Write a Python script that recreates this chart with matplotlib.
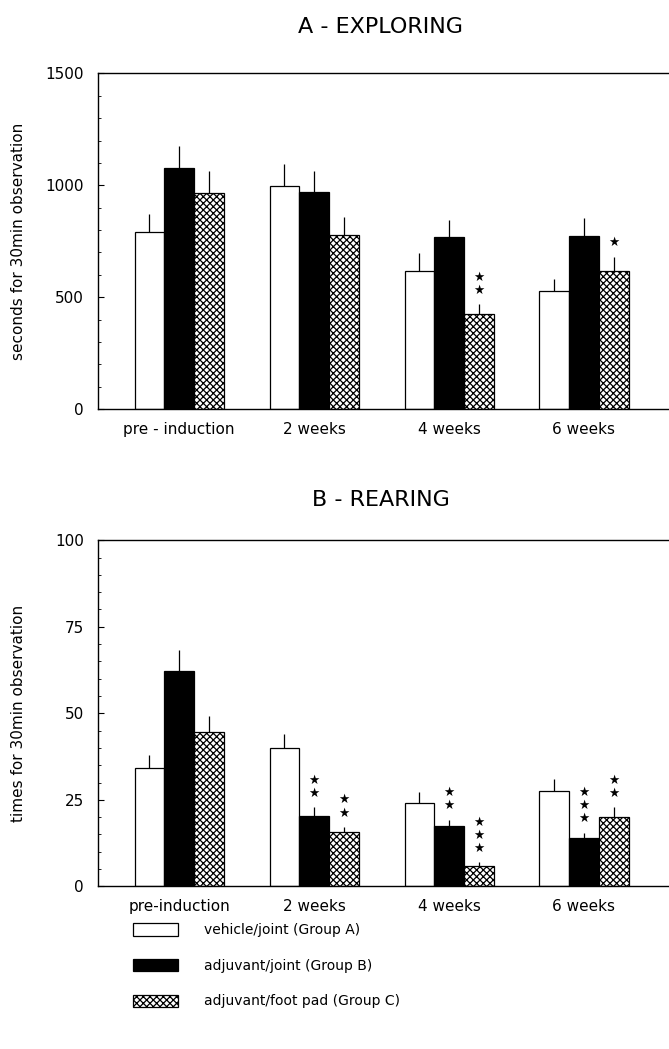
import numpy as np
import matplotlib
matplotlib.use('Agg')
import matplotlib.pyplot as plt
from matplotlib.patches import Patch
from matplotlib.ticker import MultipleLocator

plt.rcParams['font.family'] = ['DejaVu Sans']
plt.rcParams['hatch.linewidth'] = 0.9

# Data
periods_a = ['pre - induction', '2 weeks', '4 weeks', '6 weeks']
periods_b = ['pre-induction', '2 weeks', '4 weeks', '6 weeks']
groups = ['vehicle/joint (Group A)', 'adjuvant/joint (Group B)', 'adjuvant/foot pad (Group C)']

# A - exploring (seconds), bar tops and error-bar tops
explore_mean = [[790, 997, 618, 526],
                [1078, 971, 769, 772],
                [967, 778, 423, 615]]
explore_err_top = [[871, 1095, 697, 581],
                   [1175, 1065, 845, 855],
                   [1063, 859, 468, 681]]
explore_stars = [[0, 0, 0, 0],
                 [0, 0, 0, 0],
                 [0, 0, 2, 1]]

# B - rearing (times)
rear_mean = [[34.3, 39.9, 24.2, 27.7],
             [62.2, 20.3, 17.4, 13.9],
             [44.5, 15.6, 6.0, 20.1]]
rear_err_top = [[38.0, 43.9, 27.2, 30.9],
                [68.3, 22.9, 19.3, 15.5],
                [49.1, 17.2, 7.0, 22.8]]
rear_stars = [[0, 0, 0, 0],
              [0, 2, 2, 3],
              [0, 2, 3, 2]]

faces = ['white', 'black', 'white']
hatches = [None, None, 'xxxxx']
width = 0.22


def draw_panel(ax, periods, means, err_tops, stars, ymax, major, minor, ylabel, title, pad):
    x = np.arange(len(periods))
    for g in range(3):
        xs = x + (g - 1) * width
        ax.bar(xs, means[g], width, color=faces[g], edgecolor='black',
               linewidth=0.9, hatch=hatches[g], zorder=2)
        ax.vlines(xs, means[g], err_tops[g], color='black', linewidth=0.9, zorder=1)
        # significance stars stacked above the error bar
        for xi, top, n in zip(xs, err_tops[g], stars[g]):
            for k in range(n):
                ax.annotate('★', (xi, top), xytext=(0, 10 + 9.4 * k),
                            textcoords='offset points', ha='center', va='center',
                            fontsize=9)
    ax.set_ylim(0, ymax)
    ax.set_xlim(-0.604, 3.63)
    ax.yaxis.set_major_locator(MultipleLocator(major))
    ax.yaxis.set_minor_locator(MultipleLocator(minor))
    ax.tick_params(axis='y', direction='in', length=4, width=0.8, labelsize=11, pad=10)
    ax.tick_params(axis='y', which='minor', direction='in', length=2, width=0.6)
    ax.set_xticks(x)
    ax.set_xticklabels(periods, fontsize=11)
    ax.tick_params(axis='x', length=0, pad=9)
    ax.spines['right'].set_visible(False)
    for s in ['left', 'top', 'bottom']:
        ax.spines[s].set_linewidth(1.0)
    ax.set_ylabel(ylabel, fontsize=11)
    ax.yaxis.set_label_coords(-0.125, 0.5)
    ax.set_title(title, fontsize=16, pad=pad, x=0.495)


fig = plt.figure(figsize=(6.69, 10.49), dpi=100)
ax1 = fig.add_axes([0.146, 0.610, 0.854, 0.320])
ax2 = fig.add_axes([0.146, 0.155, 0.854, 0.330])

draw_panel(ax1, periods_a, explore_mean, explore_err_top, explore_stars, 1500, 500, 100,
           'seconds for 30min observation', 'A - EXPLORING', 29)
draw_panel(ax2, periods_b, rear_mean, rear_err_top, rear_stars, 100, 25, 5,
           'times for 30min observation', 'B - REARING', 25)

handles = [Patch(facecolor=faces[g], edgecolor='black', hatch=hatches[g], linewidth=0.9)
           for g in range(3)]
fig.legend(handles, groups, loc='upper left', bbox_to_anchor=(0.191, 0.125),
           frameon=False, fontsize=10, handlelength=3.2, handleheight=1.0,
           handletextpad=1.9, labelspacing=1.55, borderaxespad=0)

fig.savefig('out.png', dpi=100)
